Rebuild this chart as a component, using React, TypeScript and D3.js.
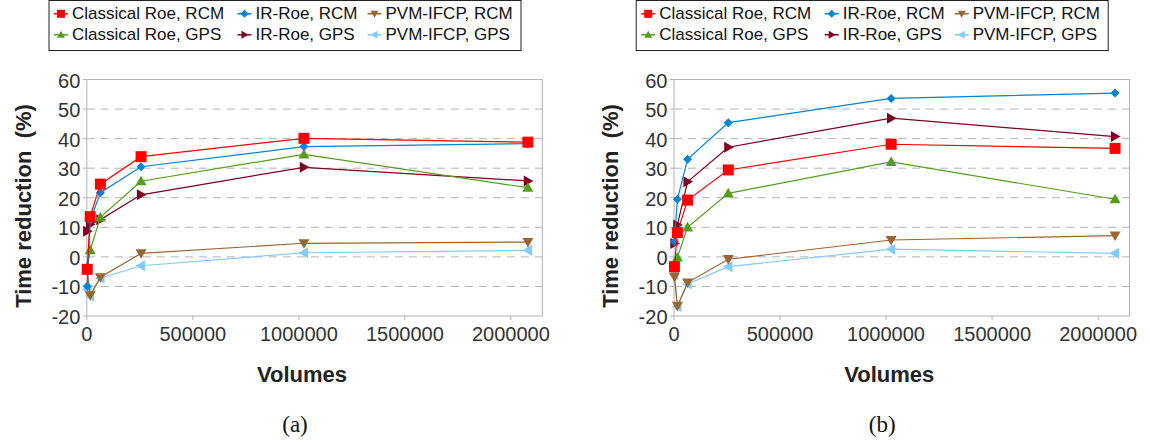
import React from "react";
import * as d3 from "d3";

const volumes = [2000, 16000, 64000, 256000, 1024000, 2080000];

const seriesNames = [
  "Classical Roe, RCM",
  "IR-Roe, RCM",
  "PVM-IFCP, RCM",
  "Classical Roe, GPS",
  "IR-Roe, GPS",
  "PVM-IFCP, GPS",
];

// Panel (a)
const classicalRcmA = [-4.2, 13.6, 24.6, 33.9, 40.1, 38.8];
const irRcmA = [-9.9, 12.3, 21.7, 30.5, 37.3, 38.3];
const pvmRcmA = [-4.5, -13.0, -6.9, 1.2, 4.6, 5.0];
const classicalGpsA = [-3.5, 2.3, 13.4, 25.6, 34.7, 23.4];
const irGpsA = [8.7, 11.0, 12.6, 21.0, 30.3, 25.7];
const pvmGpsA = [-11.0, -13.2, -7.2, -3.0, 1.4, 2.2];

// Panel (b)
const classicalRcmB = [-3.3, 8.2, 19.2, 29.4, 38.1, 36.7];
const irRcmB = [5.1, 19.5, 33.0, 45.4, 53.6, 55.4];
const pvmRcmB = [-6.7, -16.6, -8.7, -0.8, 5.7, 7.2];
const classicalGpsB = [-2.5, -0.2, 10.0, 21.5, 32.1, 19.5];
const irGpsB = [4.5, 10.8, 25.4, 37.1, 46.9, 40.7];
const pvmGpsB = [-6.0, -16.8, -9.2, -3.3, 2.6, 1.2];

const yTicks = [-20, -10, 0, 10, 20, 30, 40, 50, 60];
const xTicks = [0, 500000, 1000000, 1500000, 2000000];

const colors = ["#ff0000", "#0084d1", "#996633", "#579d1c", "#7e0021", "#83caff"];
const shapes = ["square", "diamond", "down", "up", "right", "left"];

const FONT = "'Liberation Sans', Arial, sans-serif";

function Marker({ shape, x, y, s, color }: { shape: string; x: number; y: number; s: number; color: string }) {
  const h = s / 2;
  let d = "";
  if (shape === "square") d = `M${x - h},${y - h}h${s}v${s}h${-s}Z`;
  else if (shape === "diamond") d = `M${x},${y - h}L${x + h},${y}L${x},${y + h}L${x - h},${y}Z`;
  else if (shape === "up") d = `M${x},${y - h}L${x + h},${y + h * 0.75}L${x - h},${y + h * 0.75}Z`;
  else if (shape === "down") d = `M${x},${y + h}L${x + h},${y - h * 0.75}L${x - h},${y - h * 0.75}Z`;
  else if (shape === "right") d = `M${x + h},${y}L${x - h * 0.75},${y + h}L${x - h * 0.75},${y - h}Z`;
  else if (shape === "left") d = `M${x - h},${y}L${x + h * 0.75},${y + h}L${x + h * 0.75},${y - h}Z`;
  return <path d={d} fill={color} />;
}

const markerSize: Record<string, number> = { square: 11, diamond: 9, down: 11, up: 11, right: 11, left: 11 };

function Panel({ dx, data, label }: { dx: number; data: number[][]; label: string }) {
  const left = 86.8 + dx;
  const right = 542.3 + dx;
  const top = 79.5;
  const bottom = 316;
  const x = d3.scaleLinear().domain([0, 2148000]).range([left, right]);
  const y = d3.scaleLinear().domain([-20, 60]).range([bottom, top]);
  const line = d3
    .line<number>()
    .x((_, i) => x(volumes[i]))
    .y((v) => y(v));
  const drawOrder = [5, 4, 3, 2, 1, 0];

  const legendLeft = 49 + dx;
  const legendCols = [0, 183.5, 313.5];
  return (
    <g>
      {/* legend */}
      <rect x={legendLeft} y={0.5} width={472} height={50} fill="#fff" stroke="#222" strokeWidth={1} />
      {seriesNames.map((name, i) => {
        const col = i % 3;
        const row = Math.floor(i / 3);
        const mx = legendLeft + 12 + legendCols[col];
        const my = 13.8 + row * 21;
        return (
          <g key={name}>
            <line x1={mx - 7} x2={mx + 7} y1={my} y2={my} stroke={colors[i]} strokeWidth={1.5} />
            <Marker shape={shapes[i]} x={mx} y={my} s={8} color={colors[i]} />
            <text x={mx + 11} y={my} dominantBaseline="central" fontSize={17} fontFamily={FONT} fill="#111">
              {name}
            </text>
          </g>
        );
      })}
      {/* grid */}
      {yTicks.slice(1, -1).map((t) => (
        <line key={t} x1={left} x2={right} y1={y(t)} y2={y(t)} stroke="#b3b3b3" strokeWidth={1} strokeDasharray="8,6" />
      ))}
      <rect x={left} y={top} width={right - left} height={bottom - top} fill="none" stroke="#b3b3b3" strokeWidth={1} />
      {yTicks.map((t) => (
        <g key={t}>
          <line x1={left - 4} x2={left} y1={y(t)} y2={y(t)} stroke="#b3b3b3" />
          <text x={left - 6.5} y={y(t) + 1} textAnchor="end" dominantBaseline="central" fontSize={20} fontFamily={FONT} fill="#333">
            {t}
          </text>
        </g>
      ))}
      {xTicks.map((t) => (
        <g key={t}>
          <line x1={x(t)} x2={x(t)} y1={bottom} y2={bottom + 4} stroke="#b3b3b3" />
          <text x={x(t)} y={341} textAnchor="middle" fontSize={20} fontFamily={FONT} fill="#333">
            {t}
          </text>
        </g>
      ))}
      {/* series */}
      {drawOrder.map((i) => (
        <g key={i}>
          <path d={line(data[i]) || ""} fill="none" stroke={colors[i]} strokeWidth={1.2} />
          {data[i].map((v, j) => (
            <Marker key={j} shape={shapes[i]} x={x(volumes[j])} y={y(v)} s={markerSize[shapes[i]]} color={colors[i]} />
          ))}
        </g>
      ))}
      {/* titles */}
      <text
        transform={`translate(${23 + dx},${206}) rotate(-90)`}
        textAnchor="middle"
        dominantBaseline="central"
        fontSize={22}
        fontWeight="bold"
        fontFamily={FONT}
        fill="#222"
        style={{ whiteSpace: "pre" }}
      >
        {"Time reduction  (%)"}
      </text>
      <text x={302 + dx} y={382} textAnchor="middle" fontSize={22} fontWeight="bold" fontFamily={FONT} fill="#222">
        Volumes
      </text>
      <text x={295 + dx} y={432} textAnchor="middle" fontSize={23} fontFamily="'Liberation Serif', 'DejaVu Serif', serif" fill="#111">
        {label}
      </text>
    </g>
  );
}

export default function App() {
  const dataA = [classicalRcmA, irRcmA, pvmRcmA, classicalGpsA, irGpsA, pvmGpsA];
  const dataB = [classicalRcmB, irRcmB, pvmRcmB, classicalGpsB, irGpsB, pvmGpsB];
  return (
    <svg
      width={1150}
      height={445}
      style={{ position: "absolute", left: 0, top: 0, background: "#fff" }}
    >
      <rect width={1150} height={445} fill="#fff" />
      <Panel dx={0} data={dataA} label="(a)" />
      <Panel dx={587.2} data={dataB} label="(b)" />
    </svg>
  );
}
